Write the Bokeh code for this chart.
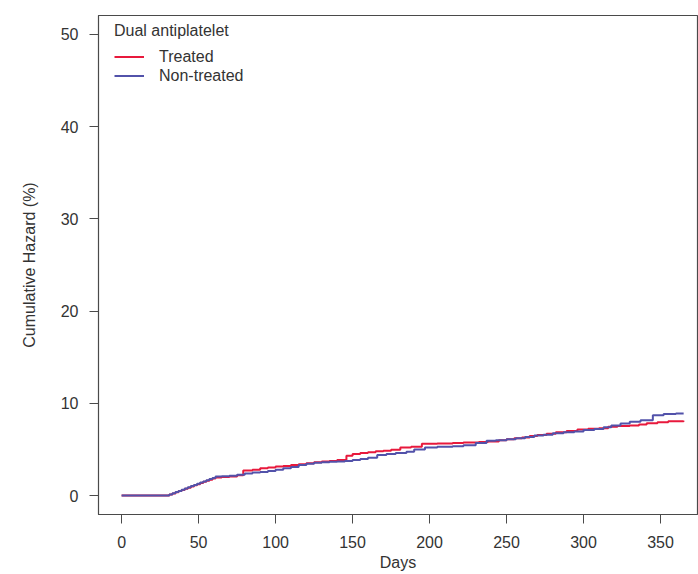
from bokeh.plotting import figure
from bokeh.models import Range1d, FixedTicker, Legend, LegendItem, Label
from bokeh.embed import file_html
from bokeh.resources import INLINE

# ---- data ----
treated_days = [0, 31, 33, 35, 37, 39, 41, 43, 45, 47, 49, 51, 53, 55, 57, 59, 61, 65, 70, 75, 79,
                85, 90, 95, 100, 105, 110, 115, 120, 125, 130, 135, 140, 146, 150, 155, 160, 165,
                170, 175, 181, 188, 195, 205, 215, 222, 232, 238, 245, 250, 255, 260, 265, 270, 276,
                282, 289, 296, 303, 310, 316, 322, 330, 336, 341, 348, 355, 365]
treated_hazard = [0, 0.1, 0.22, 0.35, 0.48, 0.6, 0.72, 0.85, 0.98, 1.1, 1.22, 1.35, 1.48, 1.6, 1.72,
                  1.85, 1.95, 2.0, 2.05, 2.2, 2.7, 2.8, 2.95, 3.05, 3.15, 3.2, 3.3, 3.4, 3.5, 3.6,
                  3.7, 3.75, 3.85, 4.3, 4.5, 4.6, 4.7, 4.8, 4.85, 4.95, 5.2, 5.3, 5.6, 5.65, 5.7,
                  5.75, 5.8, 5.85, 6.0, 6.1, 6.2, 6.3, 6.45, 6.55, 6.7, 6.85, 7.0, 7.15, 7.25, 7.3,
                  7.45, 7.55, 7.6, 7.7, 7.85, 7.95, 8.05, 8.1]

nontreated_days = [0, 31, 33, 35, 37, 39, 41, 43, 45, 47, 49, 51, 53, 55, 57, 59, 61, 65, 70, 75, 80,
                   85, 90, 95, 100, 105, 110, 115, 120, 125, 130, 135, 140, 145, 150, 155, 160, 166,
                   172, 178, 185, 190, 197, 205, 215, 222, 230, 237, 243, 250, 256, 262, 268, 274,
                   280, 287, 294, 300, 307, 313, 318, 324, 330, 337, 345, 352, 360, 365]
nontreated_hazard = [0, 0.12, 0.25, 0.38, 0.5, 0.63, 0.76, 0.9, 1.02, 1.15, 1.28, 1.4, 1.52, 1.65,
                     1.78, 1.9, 2.05, 2.1, 2.15, 2.25, 2.4, 2.5, 2.55, 2.65, 2.8, 2.95, 3.1, 3.3,
                     3.45, 3.55, 3.6, 3.65, 3.7, 3.75, 3.85, 3.95, 4.1, 4.4, 4.5, 4.6, 4.75, 5.0,
                     5.2, 5.3, 5.35, 5.45, 5.7, 5.95, 6.0, 6.1, 6.2, 6.35, 6.5, 6.6, 6.75, 6.85,
                     6.95, 7.1, 7.2, 7.4, 7.6, 7.8, 8.0, 8.15, 8.7, 8.85, 8.9, 8.9]

x_ticks = [0, 50, 100, 150, 200, 250, 300, 350]
y_ticks = [0, 10, 20, 30, 40, 50]
series_names = ["Treated", "Non-treated"]
legend_title = "Dual antiplatelet"

RED = "#E8193C"
BLUE = "#5252AA"
TEXT = "#333333"
AXIS = "#4a4a4a"
FONT = "Liberation Sans"

p = figure(width=698, height=574, output_backend="svg", toolbar_location=None,
           x_range=Range1d(-15, 374), y_range=Range1d(-2.06, 52.06),
           min_border_left=98, min_border_right=1, min_border_top=15, min_border_bottom=60)
p.grid.visible = False
p.outline_line_color = AXIS
p.outline_line_width = 1.2
p.background_fill_color = "white"
p.border_fill_color = "white"

r1 = p.step(treated_days, treated_hazard, mode="after", line_color=RED, line_width=2)
r2 = p.step(nontreated_days, nontreated_hazard, mode="after", line_color=BLUE, line_width=2)

for ax in (p.xaxis[0], p.yaxis[0]):
    ax.axis_line_color = AXIS
    ax.major_tick_line_color = AXIS
    ax.major_tick_out = 9
    ax.major_tick_in = 0
    ax.minor_tick_line_color = None
    ax.major_label_text_font = FONT
    ax.major_label_text_font_size = "16px"
    ax.major_label_text_color = TEXT
    ax.axis_label_text_font = FONT
    ax.axis_label_text_font_size = "16px"
    ax.axis_label_text_font_style = "normal"
    ax.axis_label_text_color = TEXT

p.xaxis[0].ticker = FixedTicker(ticks=x_ticks)
p.yaxis[0].ticker = FixedTicker(ticks=y_ticks)
p.xaxis[0].axis_label = "Days"
p.yaxis[0].axis_label = "Cumulative Hazard (%)"
p.xaxis[0].major_label_standoff = 12
p.xaxis[0].axis_label_standoff = 3
p.yaxis[0].major_label_standoff = 11
p.yaxis[0].axis_label_standoff = 20

legend = Legend(items=[LegendItem(label=series_names[0], renderers=[r1]),
                       LegendItem(label=series_names[1], renderers=[r2])],
                title=legend_title, location=(16, 429), padding=0, margin=0, spacing=0,
                label_height=19, glyph_height=19, glyph_width=30, label_standoff=15,
                title_standoff=7, border_line_color=None, background_fill_alpha=0)
legend.title_text_font = FONT
legend.title_text_font_size = "16px"
legend.title_text_font_style = "normal"
legend.title_text_color = TEXT
legend.label_text_font = FONT
legend.label_text_font_size = "16px"
legend.label_text_color = TEXT
p.add_layout(legend)

# clipped "Days" fragment at the very top of the reference
p.add_layout(Label(x=179, y=53.35, text="Days", text_align="center", text_baseline="alphabetic",
                   text_font=FONT, text_font_size="16px", text_color="#888888"))

open("out.html", "w").write(file_html(p, INLINE))
